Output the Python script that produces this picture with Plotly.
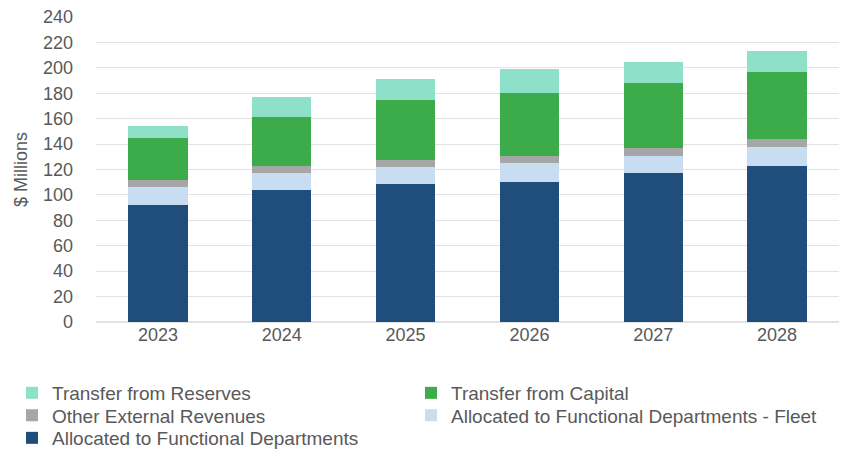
import plotly.graph_objects as go

years = ["2023", "2024", "2025", "2026", "2027", "2028"]

# $ millions, stacked from the bottom up
allocated = [92.3, 103.6, 108.3, 110.4, 117.2, 123.0]
allocated_fleet = [13.7, 13.9, 13.4, 14.7, 13.4, 14.7]
other_external = [5.5, 5.2, 5.5, 5.7, 6.5, 6.3]
transfer_capital = [33.0, 38.3, 47.5, 49.6, 51.2, 52.4]
transfer_reserves = [10.0, 16.0, 16.5, 18.7, 16.0, 16.8]

# (name, values, colour, legend id)
series = [
    ("Allocated to Functional Departments", allocated, "#1F4E7C", "legend5"),
    ("Allocated to Functional Departments - Fleet", allocated_fleet, "#C8DDF1", "legend4"),
    ("Other External Revenues", other_external, "#A6A6A6", "legend3"),
    ("Transfer from Capital", transfer_capital, "#3CAB4A", "legend2"),
    ("Transfer from Reserves", transfer_reserves, "#8EE0C8", "legend"),
]

fig = go.Figure()
for name, vals, color, leg in series:
    fig.add_trace(go.Bar(x=years, y=vals, name=name, marker_color=color,
                         marker_line_width=0, legend=leg, showlegend=True))

font = "Liberation Sans, Arial, sans-serif"
ML, MR, MT, MB = 96, 8, 17, 127
W, H = 847, 449
plot_w = W - ML - MR
plot_h = H - MT - MB


def legend_entry(left_px, top_px):
    """A single legend entry placed with its box at (left_px, top_px)."""
    return dict(orientation="h",
                x=(left_px - ML) / plot_w, xanchor="left",
                y=-(top_px - (H - MB)) / plot_h, yanchor="top",
                font=dict(size=19, color="#595959"),
                bgcolor="rgba(0,0,0,0)", itemclick=False)


col1, col2 = 12, 411
row1, row2, row3 = 374, 396.5, 419

fig.update_layout(
    showlegend=True,
    barmode="stack",
    bargap=0.52,
    width=W,
    height=H,
    margin=dict(l=ML, r=MR, t=MT, b=MB, autoexpand=False),
    paper_bgcolor="white",
    plot_bgcolor="white",
    font=dict(family=font, size=18, color="#595959"),
    xaxis=dict(showgrid=False, ticks="", showline=False,
               tickfont=dict(size=18, color="#595959")),
    yaxis=dict(range=[0, 240], dtick=20, showgrid=True, gridcolor="#E2E2E2",
               gridwidth=1, zeroline=True, zerolinecolor="#E2E2E2",
               ticks="", ticklabelstandoff=22,
               tickfont=dict(size=18, color="#595959"),
               title=dict(text="$ Millions", standoff=10,
                          font=dict(size=18, color="#595959"))),
    legend=legend_entry(col1, row1),
    legend2=legend_entry(col2, row1),
    legend3=legend_entry(col1, row2),
    legend4=legend_entry(col2, row2),
    legend5=legend_entry(col1, row3),
)

fig.write_html("out.html")
